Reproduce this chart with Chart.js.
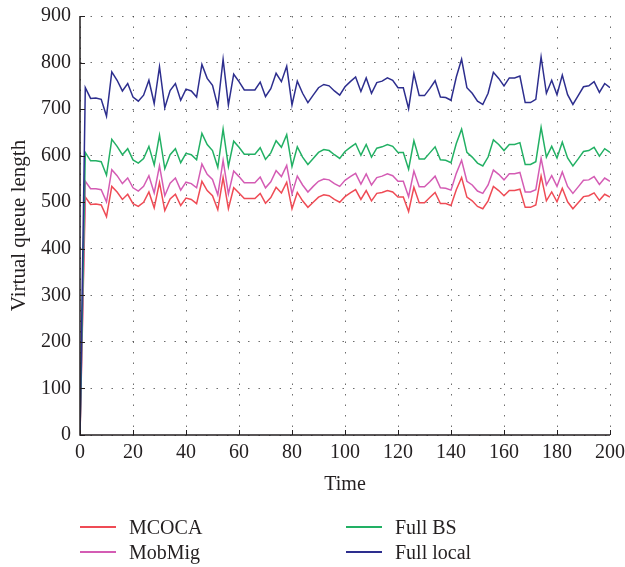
<!DOCTYPE html>
<html>
<head>
<meta charset="utf-8">
<script src="https://cdn.jsdelivr.net/npm/chart.js@4/dist/chart.umd.min.js"></script>
<style>
    html, body { margin: 0; padding: 0; background: #fff; }
    #wrap { position: relative; width: 625px; height: 567px; }
    #legend { position: absolute; left: 0; top: 0; width: 625px; height: 567px; pointer-events: none;
        font-family: "Liberation Serif", "DejaVu Serif", serif; font-size: 20px; color: #231f20; }
    .item { position: absolute; display: flex; align-items: center; }
    .item span.line { display: inline-block; width: 36px; height: 2px; margin-right: 13px; }
</style>
</head>
<body>
<div id="wrap">
    <canvas id="chart" width="625" height="567"></canvas>
    <div id="legend"></div>
</div>
<script>
const times = [0, 2, 4, 6, 8, 10, 12, 14, 16, 18, 20, 22, 24, 26, 28, 30, 32, 34, 36, 38, 40,
    42, 44, 46, 48, 50, 52, 54, 56, 58, 60, 62, 64, 66, 68, 70, 72, 74, 76, 78, 80,
    82, 84, 86, 88, 90, 92, 94, 96, 98, 100, 102, 104, 106, 108, 110, 112, 114, 116, 118, 120,
    122, 124, 126, 128, 130, 132, 134, 136, 138, 140, 142, 144, 146, 148, 150, 152, 154, 156, 158, 160,
    162, 164, 166, 168, 170, 172, 174, 176, 178, 180, 182, 184, 186, 188, 190, 192, 194, 196, 198, 200];

const mcoca = [0, 511, 495, 496, 494, 469, 534, 522, 506, 517, 497, 491, 500, 522, 488, 542, 482, 507, 517, 493, 509,
    506, 497, 545, 525, 514, 484, 553, 486, 531, 520, 508, 508, 508, 519, 498, 510, 532, 520, 543, 486,
    521, 503, 489, 500, 511, 516, 514, 506, 500, 512, 520, 527, 506, 525, 503, 519, 521, 525, 522, 511,
    511, 480, 532, 499, 499, 510, 521, 497, 497, 493, 527, 553, 511, 503, 491, 486, 503, 534, 525, 514,
    525, 525, 528, 489, 489, 494, 556, 503, 522, 501, 530, 501, 486, 499, 512, 514, 520, 504, 517, 511];

const mobMig = [0, 545, 529, 529, 527, 501, 570, 557, 540, 552, 531, 524, 534, 557, 520, 578, 514, 541, 552, 526, 543,
    540, 531, 582, 560, 549, 516, 590, 518, 567, 555, 542, 542, 542, 554, 531, 544, 568, 555, 579, 518,
    556, 537, 522, 534, 545, 550, 548, 540, 534, 547, 555, 562, 539, 561, 537, 553, 556, 561, 557, 545,
    545, 512, 567, 533, 533, 544, 556, 531, 530, 526, 562, 590, 545, 537, 524, 519, 537, 569, 560, 548,
    561, 561, 564, 522, 522, 527, 594, 537, 557, 534, 565, 534, 519, 533, 547, 548, 555, 538, 552, 545];

const fullBS = [0, 607, 589, 589, 587, 558, 635, 620, 602, 615, 591, 584, 594, 620, 580, 644, 572, 602, 615, 585, 605,
    602, 591, 648, 624, 611, 575, 657, 577, 631, 618, 603, 603, 603, 617, 592, 606, 632, 618, 645, 577,
    619, 597, 581, 594, 607, 613, 611, 602, 594, 609, 618, 626, 601, 624, 597, 616, 619, 624, 620, 607,
    607, 571, 632, 593, 593, 606, 619, 591, 590, 585, 626, 657, 607, 597, 584, 578, 597, 634, 624, 611,
    624, 624, 628, 581, 581, 587, 661, 597, 620, 595, 629, 595, 578, 593, 609, 611, 618, 599, 615, 607];

const fullLocal = [0, 746, 723, 724, 721, 685, 780, 762, 739, 755, 726, 717, 730, 762, 712, 791, 703, 740, 755, 719, 743,
    739, 726, 796, 766, 751, 706, 807, 709, 775, 759, 741, 741, 741, 758, 727, 744, 777, 759, 792, 709,
    760, 734, 714, 730, 746, 753, 750, 739, 730, 748, 759, 769, 738, 767, 734, 757, 760, 767, 762, 746,
    746, 701, 776, 729, 729, 744, 761, 726, 725, 719, 769, 807, 746, 734, 717, 710, 734, 779, 766, 750,
    767, 767, 771, 714, 714, 721, 812, 734, 762, 731, 773, 731, 710, 729, 748, 750, 759, 736, 755, 746];

const seriesNames = ['MCOCA', 'MobMig', 'Full BS', 'Full local'];
const seriesColors = ['#ef4b55', '#d45cb4', '#22b064', '#2d2e8e'];
const seriesValues = [mcoca, mobMig, fullBS, fullLocal];

const FONT = '"Liberation Serif", "DejaVu Serif", serif';
const INK = '#231f20';

function points(values) {
    return values.map((v, i) => ({ x: times[i], y: v }));
}

// inward tick marks + solid axis lines, like the original figure
const axisPlugin = {
    id: 'axisPlugin',
    afterDatasetsDraw(chart) {
        const { ctx, chartArea: a, scales: { x, y } } = chart;
        ctx.save();
        ctx.strokeStyle = INK;
        ctx.lineWidth = 1;
        ctx.beginPath();
        x.ticks.forEach(t => {
            const px = Math.round(x.getPixelForValue(t.value)) + 0.5;
            ctx.moveTo(px, a.bottom);
            ctx.lineTo(px, a.bottom - 5);
        });
        y.ticks.forEach(t => {
            const py = Math.round(y.getPixelForValue(t.value)) + 0.5;
            ctx.moveTo(a.left, py);
            ctx.lineTo(a.left + 5, py);
        });
        ctx.stroke();
        ctx.lineWidth = 1.5;
        ctx.beginPath();
        ctx.moveTo(a.left, a.top);
        ctx.lineTo(a.left, a.bottom);
        ctx.lineTo(a.right, a.bottom);
        ctx.stroke();
        ctx.restore();
    }
};

const ctx = document.getElementById('chart').getContext('2d');

new Chart(ctx, {
    type: 'line',
    data: {
        datasets: seriesNames.map((name, i) => ({
            label: name,
            data: points(seriesValues[i]),
            borderColor: seriesColors[i],
            backgroundColor: seriesColors[i],
            borderWidth: 1.5,
            pointRadius: 0,
            tension: 0,
            fill: false,
            order: 3 - i
        }))
    },
    options: {
        responsive: false,
        animation: false,
        layout: { padding: { top: 16, right: 15, left: 0, bottom: 67 } },
        plugins: {
            legend: { display: false },
            tooltip: { enabled: false }
        },
        scales: {
            x: {
                type: 'linear',
                min: 0,
                max: 200,
                afterFit: (s) => { s.height = 65; s.paddingLeft = 0; s.paddingRight = 0; },
                ticks: { stepSize: 20, padding: 6, color: INK, font: { family: FONT, size: 20 } },
                grid: { color: 'rgba(60,60,60,0.75)', lineWidth: 1, drawTicks: false },
                border: { display: false, dash: [1.5, 9] },
                title: { display: true, text: 'Time', color: INK, padding: { top: 0, bottom: 3 },
                    font: { family: FONT, size: 20 } }
            },
            y: {
                min: 0,
                max: 900,
                afterFit: (s) => { s.width = 80; s.paddingTop = 0; s.paddingBottom = 0; },
                ticks: { stepSize: 100, padding: 9, color: INK, font: { family: FONT, size: 20 } },
                grid: { color: 'rgba(60,60,60,0.75)', lineWidth: 1, drawTicks: false },
                border: { display: false, dash: [1.5, 9] },
                title: { display: true, text: 'Virtual queue length', color: INK, padding: { top: 7, bottom: 0 },
                    font: { family: FONT, size: 21 } }
            }
        }
    },
    plugins: [axisPlugin]
});

// two-column legend under the plot
const legendPos = [[80, 527], [80, 552], [346, 527], [346, 552]];
const legendDiv = document.getElementById('legend');
seriesNames.forEach((name, i) => {
    const item = document.createElement('div');
    item.className = 'item';
    item.style.left = legendPos[i][0] + 'px';
    item.style.top = (legendPos[i][1] - 12) + 'px';
    item.style.height = '24px';
    item.innerHTML = `<span class="line" style="background:${seriesColors[i]}"></span><span>${name}</span>`;
    legendDiv.appendChild(item);
});
</script>
</body>
</html>
